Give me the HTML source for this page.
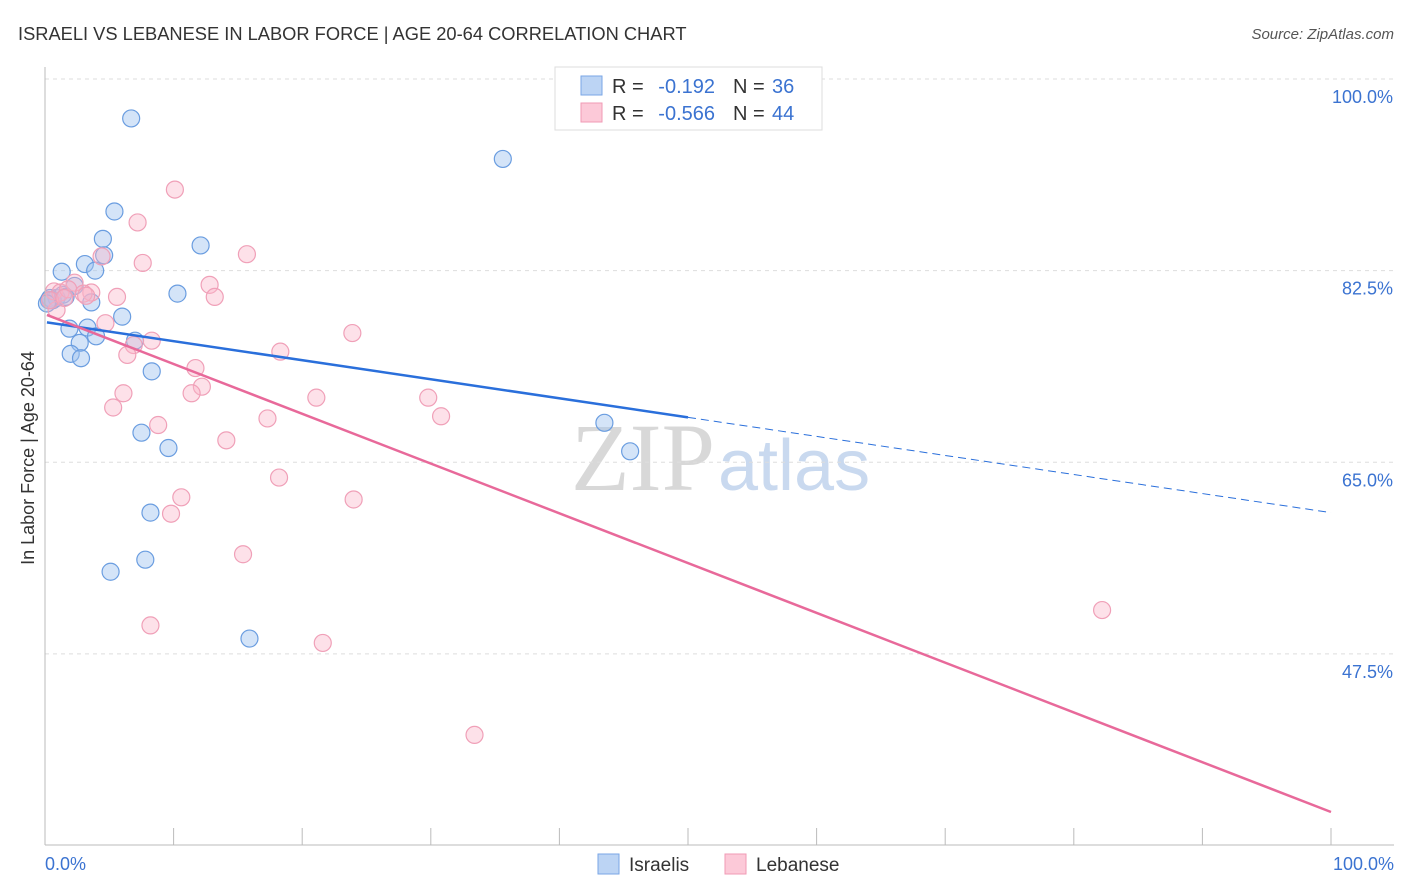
<!DOCTYPE html>
<html><head><meta charset="utf-8"><style>
body{margin:0;background:#fff;font-family:"Liberation Sans",sans-serif;}
#wrap{position:relative;width:1406px;height:892px;overflow:hidden;}
</style></head><body>
<div id="wrap">
<svg id="svg" width="1406" height="892" xmlns="http://www.w3.org/2000/svg">
<text x="18" y="40" font-size="18.3" fill="#333">ISRAELI VS LEBANESE IN LABOR FORCE | AGE 20-64 CORRELATION CHART</text>
<text x="1394" y="39" font-size="15" fill="#555" font-style="italic" text-anchor="end">Source: ZipAtlas.com</text>
<text x="715" y="490" font-size="96" fill="#d8d8d8" text-anchor="end" font-family="Liberation Serif,serif">ZIP</text>
<text x="718" y="490" font-size="72" fill="#c9d9ef">atlas</text>
<text x="34" y="458" font-size="18" fill="#333" text-anchor="middle" transform="rotate(-90 34 458)">In Labor Force | Age 20-64</text>
<g id="grid"></g><g id="pts"></g><g id="lines"></g>
<line x1="45" y1="67" x2="45" y2="845" stroke="#bbb"/>
<line x1="45" y1="845" x2="1394" y2="845" stroke="#bbb"/>
<text x="45" y="870" font-size="18" fill="#3b73d1">0.0%</text>
<text x="1394" y="870" font-size="18" fill="#3b73d1" text-anchor="end">100.0%</text>
<rect x="555" y="67" width="267" height="63" fill="#fff" stroke="#ddd"/>
<rect x="581" y="76" width="21" height="19" fill="#bcd4f4" stroke="#7aa6e6"/>
<rect x="581" y="103" width="21" height="19" fill="#fcc9d8" stroke="#f09ab5"/>
<g font-size="20">
<text x="612" y="93" fill="#333">R =</text><text x="715" y="93" fill="#3b73d1" text-anchor="end">-0.192</text>
<text x="733" y="93" fill="#333">N =</text><text x="772" y="93" fill="#3b73d1">36</text></g>
<g font-size="20">
<text x="612" y="120" fill="#333">R =</text><text x="715" y="120" fill="#3b73d1" text-anchor="end">-0.566</text>
<text x="733" y="120" fill="#333">N =</text><text x="772" y="120" fill="#3b73d1">44</text></g>
<rect x="598" y="854" width="21" height="20" fill="#bcd4f4" stroke="#7aa6e6"/>
<text x="629" y="871" font-size="19" fill="#333">Israelis</text>
<rect x="725" y="854" width="21" height="20" fill="#fcc9d8" stroke="#f09ab5"/>
<text x="756" y="871" font-size="19" fill="#333">Lebanese</text>
</svg></div>
<script>
const yTicks=[100,82.5,65,47.5];
const yTickLabels=["100.0%","82.5%","65.0%","47.5%"];
const xTicks=[0,10,20,30,40,50,60,70,80,90,100];
const israeliX=[6.7,35.6,5.4,4.5,12.1,4.6,3.1,1.3,3.9,2.3,10.3,0.4,0.9,0.6,3.6,6.0,1.9,3.3,2.7,3.97,7.0,2.0,2.8,8.3,7.5,9.6,43.5,45.5,8.2,7.8,5.1,15.9,0.3,1.4,0.15,1.6];
const israeliY=[96.4,92.7,87.9,85.4,84.8,83.9,83.1,82.4,82.5,81.1,80.4,80.0,80.0,79.8,79.6,78.3,77.2,77.3,75.9,76.5,76.1,74.9,74.5,73.3,67.7,66.3,68.6,66.0,60.4,56.1,55.0,48.9,79.8,80.3,79.5,80.1];
const lebaneseX=[10.1,7.2,15.7,7.6,4.4,2.3,3.6,12.8,13.2,5.6,0.7,1.2,1.8,3.0,0.9,4.7,23.9,8.3,6.9,6.4,18.3,11.7,6.1,12.2,11.4,5.3,21.1,29.8,30.8,17.3,8.8,14.1,18.2,10.6,24.0,9.8,15.4,82.2,8.2,21.6,33.4,0.4,1.5,3.2];
const lebaneseY=[89.9,86.9,84.0,83.2,83.8,81.4,80.5,81.2,80.1,80.1,80.6,80.5,80.8,80.4,78.9,77.7,76.8,76.1,75.7,74.8,75.1,73.6,71.3,71.9,71.3,70.0,70.9,70.9,69.2,69.0,68.4,67.0,63.6,61.8,61.6,60.3,56.6,51.5,50.1,48.5,40.1,79.8,80.0,80.2];
const blueLine=[77.8,60.4], blueSolidEnd=50;
const pinkLine=[78.45,33.06];
const X=v=>45+v*12.86, Y=v=>79+(100-v)*10.95;
const NS="http://www.w3.org/2000/svg";
function mk(t,a,p){const e=document.createElementNS(NS,t);for(const k in a)e.setAttribute(k,a[k]);p.appendChild(e);return e;}
const grid=document.getElementById('grid'),svg=document.getElementById('svg');
yTicks.forEach((v,i)=>{
 const g=mk('line',{x1:45,x2:1394,y1:Y(v),y2:Y(v),stroke:'#ddd','stroke-dasharray':'4,4'},grid);
 
 
 const t=mk('text',{x:1393,y:Y(v)+24,'font-size':18,fill:'#3b73d1','text-anchor':'end'},svg);
 t.textContent=yTickLabels[i];
 
 
});
xTicks.forEach(v=>{
 const l=mk('line',{x1:X(v),x2:X(v),y1:828,y2:845,stroke:'#bbb'},grid);
 
 
});
const pts=document.getElementById('pts');
israeliX.forEach((x,i)=>{
 const c=mk('circle',{cx:X(x),cy:Y(israeliY[i]),r:8.5,fill:'rgba(160,195,240,0.45)',stroke:'#6a9de0','stroke-width':1.2},pts);
 
 
});
lebaneseX.forEach((x,i)=>{
 const c=mk('circle',{cx:X(x),cy:Y(lebaneseY[i]),r:8.5,fill:'rgba(250,180,200,0.4)',stroke:'#f0a0b8','stroke-width':1.2},pts);
 
 
});
const lines=document.getElementById('lines');
const by=x=>blueLine[0]+(blueLine[1]-blueLine[0])*x/100;
let l1=mk('line',{x1:X(0.15),y1:Y(by(0.15)),x2:X(blueSolidEnd),y2:Y(by(blueSolidEnd)),stroke:'#2a6fdb','stroke-width':2.5},lines);


let l2=mk('line',{x1:X(blueSolidEnd),y1:Y(by(blueSolidEnd)),x2:X(100),y2:Y(by(100)),stroke:'#2a6fdb','stroke-width':1,'stroke-dasharray':'8,5'},lines);


let l3=mk('line',{x1:X(0.15),y1:Y(pinkLine[0]),x2:X(100),y2:Y(pinkLine[1]),stroke:'#e8699a','stroke-width':2.5},lines);


</script>
</body></html>
